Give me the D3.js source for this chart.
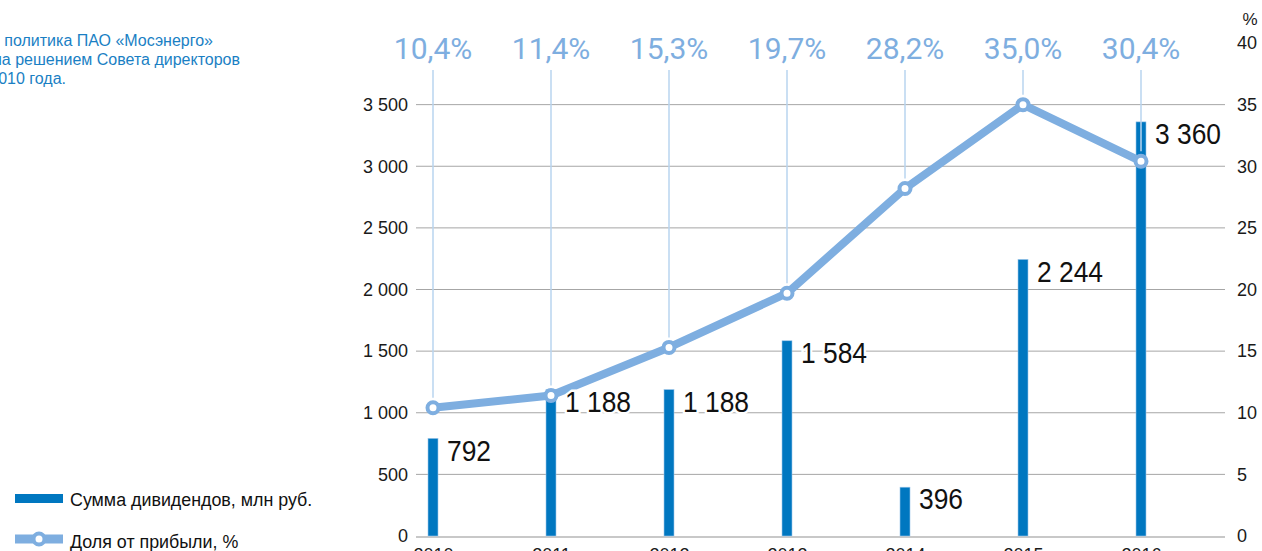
<!DOCTYPE html>
<html>
<head>
<meta charset="utf-8">
<script src="https://cdn.jsdelivr.net/npm/d3@7"></script>
<style>
  body { margin: 0; background: #fff; }
  svg { display: block; font-family: "Liberation Sans", Arial, sans-serif; }
</style>
</head>
<body>
<svg width="1262" height="551"></svg>
<script>
// chart data
var years = ["2010", "2011", "2012", "2013", "2014", "2015", "2016"];
var dividends = [792, 1188, 1188, 1584, 396, 2244, 3360];
var payoutShare = [10.4, 11.4, 15.3, 19.7, 28.2, 35.0, 30.4];
var payoutLabels = ["10,4%", "11,4%", "15,3%", "19,7%", "28,2%", "35,0%", "30,4%"];
var leftTicks = [0, 500, 1000, 1500, 2000, 2500, 3000, 3500];
var rightTicks = [0, 5, 10, 15, 20, 25, 30, 35, 40];
var noteLines = ["Дивидендная политика ПАО «Мосэнерго»", "утверждена решением Совета директоров", "2010 года."];
var legendNames = ["Сумма дивидендов, млн руб.", "Доля от прибыли, %"];

var barColor = "#0077c0", lineColor = "#7eaee0", textBlue = "#1a7fc4";
var plotLeft = 416, plotRight = 1225, plotBottom = 536, plotTop = 43;

var ru = d3.formatLocale({decimal: ",", thousands: " ", grouping: [3], currency: ["", ""]});
var fmt = ru.format(",d");

var svg = d3.select("svg");

var x = d3.scalePoint().domain(years).range([433, 1141]);
var yL = d3.scaleLinear().domain([0, 4000]).range([plotBottom, plotTop]);
var yR = d3.scaleLinear().domain([0, 40]).range([plotBottom, plotTop]);

// gridlines
svg.append("g")
   .selectAll("line")
   .data(leftTicks.slice(1))
   .enter()
   .append("line")
   .attr("x1", plotLeft).attr("x2", plotRight)
   .attr("y1", d => yL(d)).attr("y2", d => yL(d))
   .attr("stroke", "#a6a6a6").attr("stroke-width", 1);

svg.append("line")
   .attr("x1", plotLeft).attr("x2", plotRight)
   .attr("y1", yL(0) + 1).attr("y2", yL(0) + 1)
   .attr("stroke", "#c8c8c8").attr("stroke-width", 2);

// axes
var leftAxis = svg.append("g")
   .attr("transform", "translate(" + plotLeft + ",0)")
   .call(d3.axisLeft(yL).tickValues(leftTicks).tickSize(0).tickPadding(8).tickFormat(fmt));
var rightAxis = svg.append("g")
   .attr("transform", "translate(" + plotRight + ",0)")
   .call(d3.axisRight(yR).tickValues(rightTicks).tickSize(0).tickPadding(12));
var bottomAxis = svg.append("g")
   .attr("transform", "translate(0," + (plotBottom + 12) + ")")
   .call(d3.axisBottom(x).tickSize(0).tickPadding(0));

[leftAxis, rightAxis, bottomAxis].forEach(function(a) {
    a.select(".domain").remove();
    a.selectAll("text")
     .attr("fill", "#1a1a1a")
     .style("font-size", "18px")
     .style("font-family", "'Liberation Sans', Arial, sans-serif");
});
bottomAxis.selectAll("text").attr("dy", "0.71em");

svg.append("text")
   .attr("x", 1250).attr("y", 25)
   .attr("text-anchor", "middle")
   .style("font-size", "17px")
   .attr("fill", "#1a1a1a")
   .text("%");

// bars
svg.append("g")
   .selectAll("rect")
   .data(dividends)
   .enter()
   .append("rect")
   .attr("x", (d, i) => x(years[i]) - 5)
   .attr("width", 10)
   .attr("y", d => yL(d))
   .attr("height", d => yL(0) - yL(d))
   .attr("fill", barColor)
   .attr("stroke", "#9cc6ea")
   .attr("stroke-width", 0.6);

// connectors from top labels to points
svg.append("g")
   .selectAll("line")
   .data(payoutShare)
   .enter()
   .append("line")
   .attr("x1", (d, i) => x(years[i])).attr("x2", (d, i) => x(years[i]))
   .attr("y1", 70)
   .attr("y2", d => yR(d) - 10)
   .attr("stroke", "#b9d4ef").attr("stroke-width", 1.5);

// share line
var line = d3.line()
             .x((d, i) => x(years[i]))
             .y(d => yR(d));
svg.append("path")
   .datum(payoutShare)
   .attr("d", line)
   .attr("fill", "none")
   .attr("stroke", lineColor)
   .attr("stroke-width", 8)
   .attr("stroke-linejoin", "round");

// value labels with white halo, squeezed to look condensed
svg.append("g")
   .selectAll("text")
   .data(dividends)
   .enter()
   .append("text")
   .attr("transform", (d, i) => "translate(" + (x(years[i]) + 14) + "," + yL(d) + ") scale(0.88,1)")
   .attr("dy", "0.74em")
   .style("font-size", "30px")
   .attr("fill", "#111")
   .attr("stroke", "#fff")
   .attr("stroke-width", 5)
   .attr("paint-order", "stroke")
   .text(d => fmt(d));

// markers
svg.append("g")
   .selectAll("circle")
   .data(payoutShare)
   .enter()
   .append("circle")
   .attr("cx", (d, i) => x(years[i]))
   .attr("cy", d => yR(d))
   .attr("r", 5.5)
   .attr("fill", "#fff")
   .attr("stroke", lineColor)
   .attr("stroke-width", 4);

// top percent labels
svg.append("g")
   .selectAll("text")
   .data(payoutLabels)
   .enter()
   .append("text")
   .attr("x", (d, i) => x(years[i]))
   .attr("y", 59)
   .attr("text-anchor", "middle")
   .style("font-family", "Roboto, sans-serif")
   .style("font-size", "30px")
   .attr("fill", lineColor)
   .text(d => d);

// note at top left (cut off by the page edge)
svg.append("g")
   .selectAll("text")
   .data(noteLines)
   .enter()
   .append("text")
   .attr("x", (d, i) => [213, 240, 66][i])
   .attr("y", (d, i) => 46 + i * 19)
   .attr("text-anchor", "end")
   .style("font-size", "16px")
   .attr("fill", textBlue)
   .text(d => d);

// legend
var legend = svg.append("g");
legend.append("rect")
      .attr("x", 15).attr("y", 494).attr("width", 48).attr("height", 9)
      .attr("fill", barColor);
legend.append("line")
      .attr("x1", 15).attr("x2", 63).attr("y1", 539).attr("y2", 539)
      .attr("stroke", lineColor).attr("stroke-width", 9);
legend.append("circle")
      .attr("cx", 39).attr("cy", 539).attr("r", 5.5)
      .attr("fill", "#fff").attr("stroke", lineColor).attr("stroke-width", 4);
legend.selectAll("text.name")
      .data(legendNames)
      .enter()
      .append("text")
      .attr("class", "name")
      .attr("transform", (d, i) => "translate(70," + (506 + i * 42) + ") scale(0.94,1)")
      .style("font-size", "19px")
      .attr("fill", "#111")
      .text(d => d);
</script>
</body>
</html>
